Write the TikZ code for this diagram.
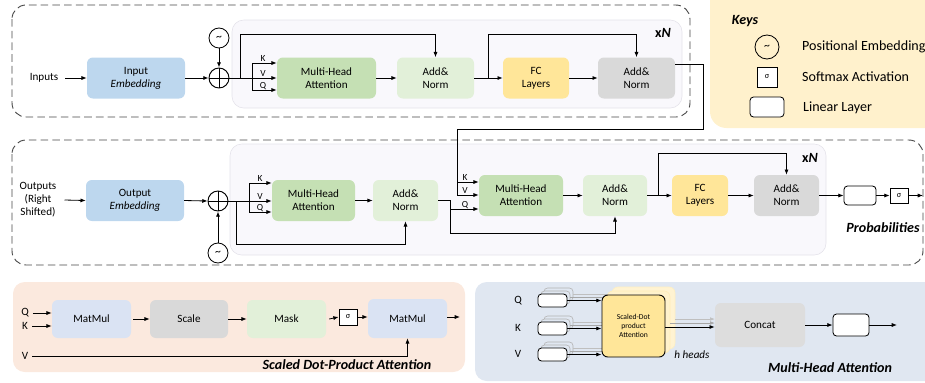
\documentclass[tikz,border=0pt]{standalone}
\usepackage{fontspec}
\setmainfont{Carlito}
\usetikzlibrary{arrows.meta}
\def\u{0.03cm}
\definecolor{embblue}{HTML}{BDD7EE}
\definecolor{mhagreen}{HTML}{C5E0B4}
\definecolor{normgreen}{HTML}{E2F0D9}
\definecolor{fcyellow}{HTML}{FFE699}
\definecolor{normgray}{HTML}{D9D9D9}
\definecolor{innerfill}{HTML}{F9F8FC}
\definecolor{innerline}{HTML}{E4E2EA}
\definecolor{keysfill}{HTML}{FFF1CC}
\definecolor{peach}{HTML}{FBE9DE}
\definecolor{matblue}{HTML}{DAE3F3}
\definecolor{mhafill}{HTML}{E0E7F1}
\definecolor{paleyellow}{HTML}{FFF3D2}
\tikzset{
  blk/.style={rounded corners=5pt, align=center, inner sep=1pt, font=\fontsize{9.5}{11}\selectfont},
  wh/.style 2 args={minimum width=#1*\u, minimum height=#2*\u},
  arr/.style={-{Latex[length=4.5pt,width=3.5pt]}, line width=0.7pt},
  ln/.style={line width=0.7pt},
  dashbox/.style={draw=black!72, line width=0.8pt, dash pattern=on 6.5pt off 3.5pt, rounded corners=12pt},
  innerbox/.style={fill=innerfill, draw=innerline, line width=0.5pt, rounded corners=10pt},
  pe/.style={circle, draw, line width=0.7pt, minimum size=20*\u, inner sep=0pt, font=\fontsize{10}{10}\selectfont},
  oplus/.style={circle, draw, line width=0.8pt, minimum size=20*\u, inner sep=0pt,
    path picture={\draw[line width=0.8pt] (path picture bounding box.north) -- (path picture bounding box.south)
      (path picture bounding box.west) -- (path picture bounding box.east);}},
  lin/.style={draw, fill=white, rounded corners=3pt, line width=0.7pt},
  sig/.style={draw, fill=white, line width=0.7pt, inner sep=0pt, font=\fontsize{7}{7}\selectfont},
  kvq/.style={font=\fontsize{8}{8}\selectfont, anchor=base, inner sep=0pt},
  title/.style={font=\fontsize{12}{13}\selectfont\bfseries\itshape},
  lbl/.style={font=\fontsize{9.5}{11}\selectfont, align=center},
  keytxt/.style={font=\fontsize{12}{13}\selectfont, anchor=west},
  shad/.style={draw=black!30, fill=mhafill, rounded corners=3pt, line width=0.5pt},
}
\begin{document}
\begin{tikzpicture}[x=0.03cm, y=-0.03cm]
		%%%%% START %%%%%
		\useasboundingbox (0,0) rectangle (925,382);
		
		%% backgrounds
		\fill[keysfill, rounded corners=14pt] (710,-15) rectangle (945,128);
		\draw[dashbox] (12,5) rectangle (690,117);
		\draw[innerbox] (232,20) rectangle (682,108);
		\draw[dashbox] (12,140) rectangle (923,265);
		\draw[innerbox] (230,144) rectangle (826,255);
		\fill[peach, rounded corners=10pt] (13,282) rectangle (465,372);
		\fill[mhafill, rounded corners=10pt] (475,282) rectangle (945,381);
		
		%% keys
		\node[font=\fontsize{12}{13}\selectfont\bfseries\itshape] (keys) at (745,21) {Keys};
		\node[pe, minimum size=24*\u] (kpe) at (767,47) {\textasciitilde};
		\node[sig, wh={20}{20}] (ksig) at (767,77) {σ};
		\node[lin, wh={34}{20}] (klin) at (767,107) {};
		\node[keytxt] (tpe) at (798,47) {Positional Embedding};
		\node[keytxt] (tsig) at (798,77) {Softmax Activation};
		\node[keytxt] (tlin) at (799,108) {Linear Layer};
		
		%% encoder
		\node[font=\fontsize{12}{13}\selectfont\bfseries] (xn1) at (663,33) {x\textit{N}};
		\node[lbl] (inp) at (44,78) {Inputs};
		\node[blk, fill=embblue, wh={98}{41}] (emb1) at (136,78) {Input\\\textit{Embedding}};
		\node[oplus] (plus1) at (219,78) {};
		\node[pe] (pe1) at (219,38) {\textasciitilde};
		\node[blk, fill=mhagreen, wh={99}{41}] (mha1) at (326.5,78) {Multi-Head\\Attention};
		\node[blk, fill=normgreen, wh={77}{41}] (an1) at (435.5,78) {Add\&\\Norm};
		\node[blk, fill=fcyellow, wh={66}{41}] (fc1) at (536,78) {FC\\Layers};
		\node[blk, fill=normgray, wh={77}{41}] (an2) at (636.5,78) {Add\&\\Norm};
		
		\draw[arr] (inp.east) ++(3,0) -- (emb1.west);
		\draw[arr] (emb1.east) -- (plus1.west);
		\draw[arr] (pe1.south) -- (plus1.north);
		\draw[ln] (plus1.east) -- (252,78);
		\draw[ln] (252,63) -- (252,90);
		\foreach \yy/\t in {63/K,78/V,90/Q}{
			\draw[arr] (252,\yy) -- (mha1.west |- 0,\yy);
			\node[kvq] at (263,\yy-1.5) {\t};
		}
		\draw[arr] (240,78) -- (240,34) -- (an1.north |- 0,34) -- (an1.north);
		\draw[arr] (mha1.east) -- (an1.west);
		\draw[arr] (an1.east) -- (fc1.west);
		\draw[arr] (488,78) -- (488,34) -- (an2.north |- 0,34) -- (an2.north);
		\draw[arr] (fc1.east) -- (an2.west);
		
		%% decoder
		\node[font=\fontsize{12}{13}\selectfont\bfseries] (xn2) at (810,158) {x\textit{N}};
		\node[lbl] (outp) at (38,200) {Outputs\\(Right\\Shifted)};
		\node[blk, fill=embblue, wh={98}{41}] (emb2) at (135,200.5) {Output\\\textit{Embedding}};
		\node[oplus] (plus2) at (218,201) {};
		\node[pe] (pe2) at (218,253) {\textasciitilde};
		\node[blk, fill=mhagreen, wh={83}{41}] (mha2) at (313.5,200.5) {Multi-Head\\Attention};
		\node[blk, fill=normgreen, wh={65}{41}] (an3) at (405.5,200.5) {Add\&\\Norm};
		\node[blk, fill=mhagreen, wh={84}{41}] (mha3) at (521,195.5) {Multi-Head\\Attention};
		\node[blk, fill=normgreen, wh={64}{41}] (an4) at (615,195.5) {Add\&\\Norm};
		\node[blk, fill=fcyellow, wh={56}{41}] (fc2) at (700,195.5) {FC\\Layers};
		\node[blk, fill=normgray, wh={65}{41}] (an5) at (786.5,195.5) {Add\&\\Norm};
		\node[lin, wh={32}{19}] (lin1) at (860,195.5) {};
		\node[sig, wh={18}{15}] (sm1) at (899,195.5) {σ};
		\coordinate (out1) at (923,195.5);
		\node[title] (prob) at (883,228) {Probabilities};
		
		\draw[arr] (outp.east) ++(4,0) -- (emb2.west);
		\draw[arr] (emb2.east) -- (plus2.west);
		\draw[arr] (pe2.north) -- (plus2.south);
		\draw[ln] (plus2.east) -- (249,201);
		\draw[ln] (249,183) -- (249,212);
		\foreach \yy/\t in {183/K,201/V,212/Q}{
			\draw[arr] (249,\yy) -- (mha2.west |- 0,\yy);
			\node[kvq] at (260,\yy-1.5) {\t};
		}
		\draw[arr] (236,201) -- (236,244) -- (an3.south |- 0,244) -- (an3.south);
		\draw[arr] (mha2.east) -- (an3.west);
		
		% encoder output into K, V
		\draw[arr] (an2.east |- 0,64) -- (703,64) -- (703,129) -- (457,129) -- (457,195) -- (mha3.west |- 0,195);
		\draw[arr] (457,182) -- (mha3.west |- 0,182);
		\draw[arr] (an3.east) -- (450,200.5) -- (450,233) -- (an4.south |- 0,233) -- (an4.south);
		\draw[arr] (450,209) -- (mha3.west |- 0,209);
		\foreach \yy/\t in {182/K,195/V,209/Q}{
			\node[kvq] at (465,\yy-1.5) {\t};
		}
		\draw[arr] (mha3.east) -- (an4.west);
		\draw[arr] (an4.east) -- (fc2.west);
		\draw[arr] (658,195.5) -- (658,153) -- (an5.north |- 0,153) -- (an5.north);
		\draw[arr] (fc2.east) -- (an5.west);
		\draw[arr] (an5.east) -- (lin1.west);
		\draw[arr] (lin1.east) -- (sm1.west);
		\draw[arr] (sm1.east) -- (out1);
		
		%% scaled dot-product attention
		\node[lbl] (sq) at (25,313) {Q};
		\node[lbl] (sk) at (25,326) {K};
		\node[lbl] (sv) at (25,356) {V};
		\node[blk, fill=matblue, wh={79}{38}] (mm1) at (91.5,319) {MatMul};
		\node[blk, fill=normgray, wh={78}{38}] (scl) at (189,319) {Scale};
		\node[blk, fill=normgreen, wh={79}{38}] (msk) at (286.5,319) {Mask};
		\node[sig, wh={18}{16}] (sm2) at (348,317) {σ};
		\node[blk, fill=matblue, wh={79}{39}] (mm2) at (407.5,318.5) {MatMul};
		\coordinate (out2) at (460,317);
		\node[title] (sdpa) at (347,365) {Scaled Dot-Product Attention};
		
		\draw[arr] (sq.east) -- (mm1.west |- sq.east);
		\draw[arr] (sk.east) -- (mm1.west |- sk.east);
		\draw[arr] (mm1.east) ++(2,0) -- (scl.west);
		\draw[arr] (scl.east) -- (msk.west);
		\draw[arr] (msk.east) ++(3,0) -- (sm2.west);
		\draw[arr] (sm2.east) -- (mm2.west |- sm2.east);
		\draw[arr] (mm2.east |- out2) -- (out2);
		\draw[arr] (sv.east) -- (mm2.south |- sv.east) -- (mm2.south);
		
		%% multi-head attention
		\node[lbl] (mq) at (518,301) {Q};
		\node[lbl] (mk) at (518,328) {K};
		\node[lbl] (mv) at (518,354) {V};
		\foreach \yy in {300.5,328.5,354.5}{
			\draw[shad] (544,\yy-6.5-6) rectangle (573,\yy+6.5-6);
			\draw[shad] (541,\yy-6.5-3) rectangle (570,\yy+6.5-3);
			\draw[black!25, line width=0.5pt] (573,\yy-6) -- (612,\yy-6);
			\draw[black!35, line width=0.5pt] (570,\yy-3) -- (607,\yy-3);
		}
		\fill[paleyellow, rounded corners=5pt] (612,287) rectangle (675,349);
		\draw[fcyellow!60, line width=0.5pt, rounded corners=5pt] (612,287) rectangle (675,349);
		\fill[paleyellow!90!fcyellow, rounded corners=5pt] (607,291) rectangle (670,353);
		\draw[fcyellow!70, line width=0.5pt, rounded corners=5pt] (607,291) rectangle (670,353);
		\node[lin, wh={29}{13}] (pq) at (552.5,300.5) {};
		\node[lin, wh={29}{13}] (pk) at (552.5,328.5) {};
		\node[lin, wh={29}{13}] (pv) at (552.5,354.5) {};
		\node[blk, draw, line width=0.8pt, fill=fcyellow, wh={63}{62}, font=\fontsize{6.5}{8}\selectfont] (att) at (633.5,326) {Scaled-Dot\\product\\Attention};
		\node[blk, draw=none, fill=normgray!90, wh={90}{44}] (cat) at (760,325) {Concat};
		\node[lin, wh={36}{22}] (lin2) at (851,325) {};
		\coordinate (out3) at (897,325);
		\node[font=\fontsize{9.5}{11}\selectfont\itshape] (hh) at (692,355) {h heads};
		\node[title] (mhat) at (830,368) {Multi-Head Attention};
		
		\draw[arr] (pq.east) -- (att.west |- pq.east);
		\draw[arr] (pk.east) -- (att.west |- pk.east);
		\draw[arr] (pv.east) -- (att.west |- pv.east);
		\draw[-{Latex[length=4pt,width=3pt]}, black!25, line width=0.5pt] (675,319) -- (cat.west |- 0,319);
		\draw[-{Latex[length=4pt,width=3pt]}, black!35, line width=0.5pt] (670,323) -- (cat.west |- 0,323);
		\draw[arr] (att.east |- 0,327) -- (cat.west |- 0,327);
		\draw[arr] (cat.east) -- (lin2.west);
		\draw[arr] (lin2.east) -- (out3);
		
		%%%%% END %%%%%
	\end{tikzpicture}
\end{document}
